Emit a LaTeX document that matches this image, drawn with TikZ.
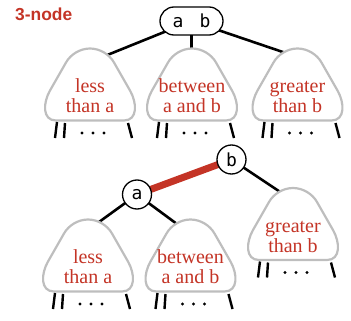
\documentclass[tikz,border=0pt]{standalone}
\usepackage{fontspec}
\setmainfont{Liberation Serif}
\newfontfamily\keyfont{DejaVu Sans Mono}
\newfontfamily\titlefont{Liberation Sans}
\usetikzlibrary{backgrounds}
\definecolor{bookred}{RGB}{196,52,38}
\definecolor{trigray}{RGB}{190,190,190}
\tikzset{
  tri/.style={draw=trigray, line width=2.2pt, fill=white, line join=round},
  lbl/.style={text=bookred, align=center, anchor=base, inner sep=0pt,
    font=\fontsize{20}{20}\selectfont},
  leg/.style={draw=black, line width=2.4pt},
  link/.style={draw=black, line width=2.6pt},
  redlink/.style={draw=bookred, line width=7pt},
  keynode/.style={draw=black, fill=white, line width=1.3pt, inner sep=0pt,
    font=\keyfont\fontsize{18}{18}\selectfont},
  title/.style={text=bookred, inner sep=0pt, anchor=base west,
    font=\titlefont\bfseries\fontsize{17.4}{17.4}\selectfont}
}
\newcommand\subtreeX[4]{%
  \begin{scope}[shift={(#2,#3)}]
    \draw[tri] (0,0) .. controls (10,0) and (19.5,6) .. (24,14) -- (40,42)
      .. controls (47,54) and (48,72) .. (34,72) -- (-34,72)
      .. controls (-48,72) and (-47,54) .. (-40,42) -- (-24,14)
      .. controls (-19.5,6) and (-10,0) .. (0,0) -- cycle;
    \node[lbl] (#1) at (0,64) {#4};
    \draw[leg] (-33,73.5) -- (-35,89.5);
    \draw[leg] (-25,74.5) -- (-26,89.5);
    \draw[leg] (38,74.5) -- (42,89.5);
    \fill (-8,84.5) circle (1.6pt);
    \fill (3,84.5) circle (1.6pt);
    \fill (14,84.5) circle (1.6pt);
  \end{scope}}
\begin{document}
\begin{tikzpicture}[x=1pt,y=-1pt]
  \useasboundingbox (0,0) rectangle (351,321);
  \node[title] (ttl) at (15,21) {3-node};
  % top 3-node
  \node[keynode, rectangle, rounded corners=14pt, minimum width=63pt, minimum height=28pt] (ab) at (191.5,21) {a\hspace{16.2pt}b\hspace{6pt}};
  \subtreeX{tl}{90}{48.5}{less\\than a}
  \subtreeX{tm}{192}{48.5}{between\\a and b}
  \subtreeX{tr}{297.5}{48.5}{greater\\than b}
  \coordinate (tlin) at (90,62);
  \coordinate (tmin) at (191.5,62);
  \coordinate (trin) at (297.5,57);
  % bottom representation
  \node[keynode, circle, minimum size=29pt] (a) at (137,194.5) {a};
  \node[keynode, circle, minimum size=29pt] (b) at (231.5,159.5) {b};
  \subtreeX{bl}{88}{219.5}{less\\than a}
  \subtreeX{bm}{190.5}{219.5}{between\\a and b}
  \subtreeX{br}{293}{188}{greater\\than b}
  \coordinate (blin) at (88,230);
  \coordinate (bmin) at (190.5,234);
  \coordinate (brin) at (293,200.5);
  \begin{scope}[on background layer]
    \draw[link] (ab.center) -- (tlin);
    \draw[link] (ab.center) -- (tmin);
    \draw[link] (ab.center) -- (trin);
    \draw[link] (a.center) -- (blin);
    \draw[link] (a.center) -- (bmin);
    \draw[link] (b.center) -- (brin);
    \draw[redlink] (a.center) -- (b.center);
  \end{scope}
\end{tikzpicture}
\end{document}
